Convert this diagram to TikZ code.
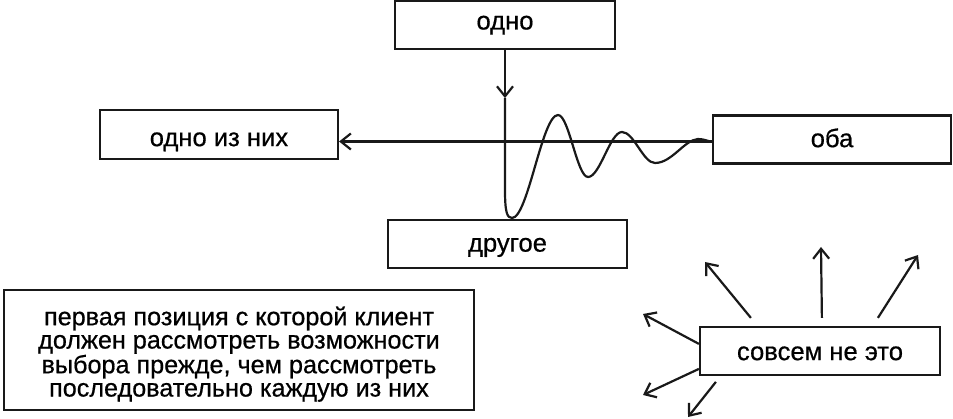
\documentclass[tikz,border=0pt]{standalone}
\usepackage{fontspec}
\setmainfont{Liberation Sans}[FakeBold=0.6]
\usetikzlibrary{arrows.meta,calc}
\begin{document}
\begin{tikzpicture}[x=1pt,y=-1pt,
  box/.style={draw=black!90,line width=2.2pt,rectangle,inner sep=0pt,
    font=\fontsize{25.6}{28}\selectfont,text depth=0pt},
  ln/.style={line width=2.2pt,black!90},
  arr/.style={ln,-{Straight Barb[length=10pt,width=16pt,line width=2.2pt]}}]
\useasboundingbox (0,0) rectangle (953,419);
% boxes
\node[box,minimum width=220pt,minimum height=48pt,text height=9pt] (odno) at (505,25) {одно};
\node[box,minimum width=238pt,minimum height=49pt,text height=23.3pt] (ones) at (219,134.5) {одно из них};
\node[box,minimum width=238pt,minimum height=48pt,text height=15.3pt] (oba) at (832,139.5) {оба};
\node[box,minimum width=239pt,minimum height=48pt,text height=15.3pt] (drugoe) at (507.5,244) {другое};
\node[box,minimum width=240pt,minimum height=48pt,text height=18.3pt] (sovsem) at (820,351) {совсем не это};
\node[draw=black!90,line width=2.2pt,rectangle,inner sep=0pt,
  minimum width=470pt,minimum height=120pt,align=center,
  font=\fontsize{25.2}{23.3}\selectfont] (big) at (239,350)
  {\rule{0pt}{27pt}первая позиция с которой клиент\\должен рассмотреть возможности\\выбора прежде, чем рассмотреть\\последовательно каждую из них};
% horizontal arrow
\coordinate (hline) at ([yshift=-2pt]oba.west);
\draw[arr] (hline) -- (hline -| ones.east);
% vertical arrow and damped wave
\coordinate (vtip) at ($(odno.south)+(0,48)$);
\draw[arr] (odno.south) -- (vtip);
\draw[ln,line join=round] (vtip) -- (505,190)
  .. controls (505,212) and (507,218) .. (512,218)
  .. controls (528,218) and (542,115) .. (558,115)
  .. controls (569,115) and (577,177) .. (588,177)
  .. controls (600,177) and (610,132) .. (622,132)
  .. controls (634,132) and (643,163) .. (655,163)
  .. controls (672,163) and (684,140) .. (698,139)
  .. controls (705,139) and (708,141.7) .. (hline);
% arrows from sovsem
\coordinate (e1) at (705,262);
\coordinate (e2) at (821,247);
\coordinate (e3) at (918,255);
\coordinate (e4) at (643,314);
\coordinate (e5) at (643,395);
\coordinate (e6) at (688,417);
\draw[arr] ($(sovsem.north west)+(52,-8)$) -- (e1);
\draw[arr] ($(sovsem.north west)+(123,-8)$) -- (e2);
\draw[arr] ($(sovsem.north west)+(179,-8)$) -- (e3);
\draw[arr] ($(sovsem.north west)+(0,18)$) -- (e4);
\draw[arr] ($(sovsem.north west)+(0,43)$) -- (e5);
\draw[arr] ($(sovsem.north west)+(17,56)$) -- (e6);
\end{tikzpicture}
\end{document}
